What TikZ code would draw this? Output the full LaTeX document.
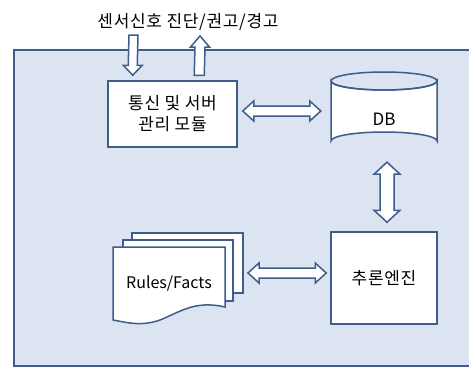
\documentclass[tikz,border=0pt]{standalone}
\usepackage{fontspec}
\setmainfont{Noto Sans CJK KR}
\usetikzlibrary{calc}
\definecolor{bgblue}{RGB}{220,228,242}
\definecolor{edgeblue}{RGB}{62,92,140}
\newcommand{\HBothArrow}[3]{% left point, right point, head length #3
\draw[blockarrow] let \p1=(#1), \p2=(#2) in
 (\x1,\y1) -- (\x1+#3,\y1+10pt) -- (\x1+#3,\y1+5pt) -- (\x2-#3,\y2+5pt) -- (\x2-#3,\y2+10pt) -- (\x2,\y2)
 -- (\x2-#3,\y2-10pt) -- (\x2-#3,\y2-5pt) -- (\x1+#3,\y1-5pt) -- (\x1+#3,\y1-10pt) -- cycle;}
\begin{document}
\begin{tikzpicture}[x=1pt,y=-1pt,
  edge/.style={draw=edgeblue, line width=1.5pt},
  box/.style={edge, fill=white, inner sep=0pt},
  blockarrow/.style={edge, fill=white, line join=miter},
  txt/.style={font=\fontsize{17}{21}\selectfont\addfontfeature{LetterSpace=4}, align=center},
  ltxt/.style={font=\fontsize{16}{20}\selectfont, align=center}]
\useasboundingbox (0,0) rectangle (469,367);
% background panel
\path[edge, fill=bgblue] (14,50) rectangle (490,366);
% title
\node[txt, anchor=center] (title) at (188,22) {센서신호 진단/권고/경고};
% communication module
\node[box, txt, minimum width=129pt, minimum height=66pt] (comm) at (172.5,114) {통신 및 서버\\관리 모듈};
% DB cylinder
\node[minimum width=106pt, minimum height=78pt, inner sep=0pt] (db) at (384,111) {};
\path[edge, fill=white] (331,81) -- (331,141) arc[start angle=180, end angle=360, x radius=53pt, y radius=-9pt] -- (437,81)
  arc[start angle=0, end angle=180, x radius=53pt, y radius=-9pt] -- cycle;
\draw[edge] (384,81) ellipse[x radius=53pt, y radius=9pt];
\node[ltxt, font=\fontsize{17}{21}\selectfont] (dbtext) at (384,119) {DB};
% inference engine
\node[box, txt, minimum width=106pt, minimum height=92pt] (engine) at (384,278) {추론엔진};
% Rules/Facts multi-document
\path[edge, fill=white] (132,233) rectangle (243,293);
\path[edge, fill=white] (123,240) rectangle (233,301);
\path[edge, fill=white] (113,247) -- (225,247) -- (225,307)
  .. controls (195,300) and (180,312) .. (160,320) .. controls (140,327) and (125,322) .. (113,320) -- cycle;
\node[ltxt, inner sep=0pt] (rules) at (169,284) {Rules/Facts};
\coordinate (rulesE) at (243,273);
% connectors
\coordinate (a1) at ($(comm.east)+(5,-3)$);
\coordinate (a2) at ($(db.west)+(-10,0)$);
\HBothArrow{a1}{a2}{11pt}
\coordinate (b1) at ($(rulesE)+(5,0)$);
\coordinate (b2) at ($(engine.west)+(-4,-5)$);
\HBothArrow{b1}{b2}{11pt}
% vertical DB <-> engine
\coordinate (c1) at ($(db.south)+(3,12)$);
\coordinate (c2) at ($(engine.north)+(3,-9)$);
\draw[blockarrow] let \p1=(c1), \p2=(c2) in
 (\x1,\y1) -- (\x1+13pt,\y1-12pt) -- (\x1+7pt,\y1-12pt) -- (\x2+7pt,\y2+12pt) -- (\x2+13pt,\y2+12pt) -- (\x2,\y2)
 -- (\x2-13pt,\y2+12pt) -- (\x2-7pt,\y2+12pt) -- (\x1-7pt,\y1-12pt) -- (\x1-13pt,\y1-12pt) -- cycle;
% sensor signal in (down arrow)
\coordinate (inTop) at (133.5,35);
\coordinate (inTip) at ($(comm.north west)+(25.5,-5)$);
\draw[blockarrow] let \p1=(inTop), \p2=(inTip) in
 (\x1-4.5pt,\y1) -- (\x1+4.5pt,\y1) -- (\x2+4.5pt,\y2+10pt) -- (\x2+9.5pt,\y2+10pt) -- (\x2,\y2)
 -- (\x2-9.5pt,\y2+10pt) -- (\x2-4.5pt,\y2+10pt) -- cycle;
% diagnosis out (up arrow)
\coordinate (outBase) at ($(comm.north west)+(92,-5)$);
\coordinate (outTip) at (200,36);
\draw[blockarrow] let \p1=(outBase), \p2=(outTip) in
 (\x1-5pt,\y1) -- (\x1+5pt,\y1) -- (\x2+5pt,\y2-11pt) -- (\x2+9.5pt,\y2-11pt) -- (\x2,\y2)
 -- (\x2-9.5pt,\y2-11pt) -- (\x2-5pt,\y2-11pt) -- cycle;
\end{tikzpicture}
\end{document}
